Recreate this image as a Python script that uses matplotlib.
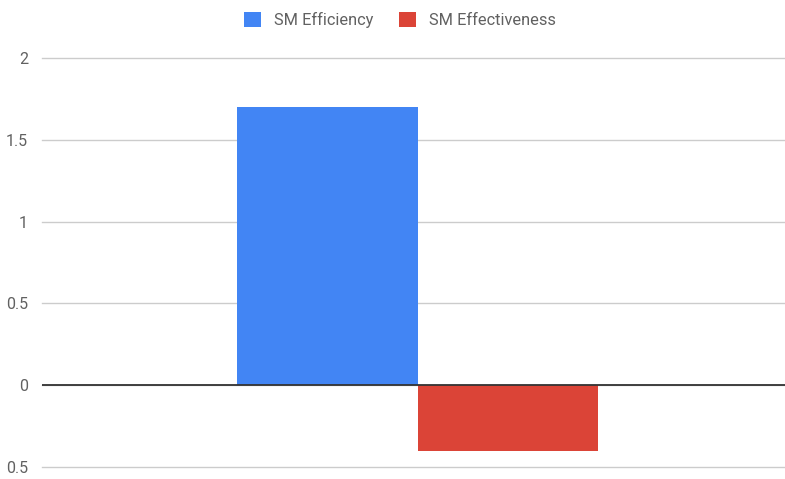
import numpy as np
import matplotlib.pyplot as plt

plt.rcParams['font.family'] = ['Roboto', 'DejaVu Sans']

series = ["SM Efficiency", "SM Effectiveness"]
values = [1.70, -0.40]
colors = ["#4285F4", "#DB4437"]
yticks = [-0.5, 0, 0.5, 1, 1.5, 2]
ytick_labels = ["0.5", "0", "0.5", "1", "1.5", "2"]

fig = plt.figure(figsize=(7.85, 4.79), dpi=100)
ax = fig.add_axes([0.0535, 0.025, 0.9465, 0.854])

width = 0.243
center = 0.0054
offsets = [-width / 2, width / 2]
for name, val, col, off in zip(series, values, colors, offsets):
    ax.bar(center + off, val, width=width, color=col, label=name, zorder=2)

ax.set_xlim(-0.5, 0.5)
ax.set_ylim(-0.5, 2.0)
ax.set_yticks(yticks)
ax.set_yticklabels(ytick_labels)
ax.set_xticks([])
ax.grid(axis='y', color='#cccccc', lw=1, zorder=0)
# keep the edge gridlines from being clipped at the axes border
for gl in ax.yaxis.get_gridlines():
    gl.set_clip_on(False)
ax.axhline(0, color='#333333', lw=1.3, zorder=3)
for s in ax.spines.values():
    s.set_visible(False)
ax.tick_params(axis='y', length=0, pad=10, labelsize=11.5, labelcolor='#616161')

ax.legend(loc='center', bbox_to_anchor=(0.482, 1.0925), ncol=2, frameon=False,
          fontsize=11.8, labelcolor='#616161', handlelength=1.0, handleheight=1.0,
          columnspacing=1.6, handletextpad=0.8)

fig.savefig("out.png", dpi=100)
